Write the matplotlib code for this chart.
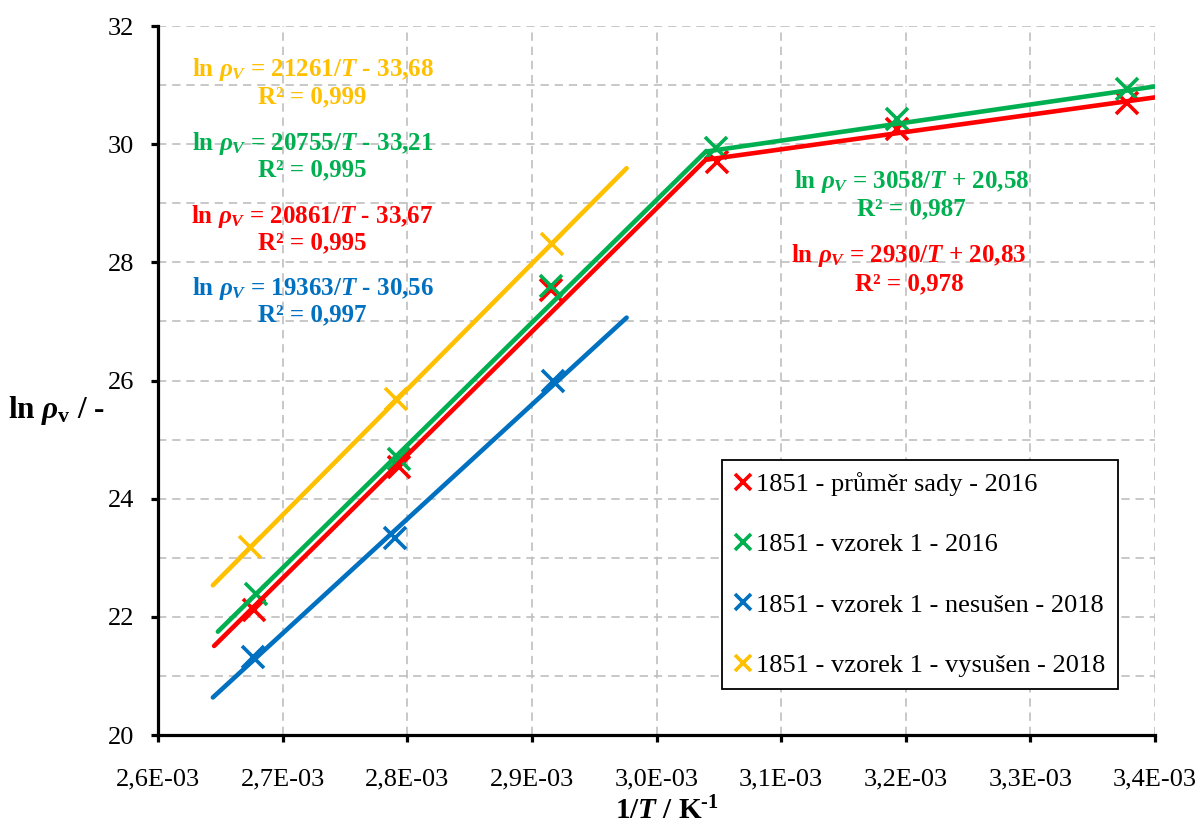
import numpy as np
import matplotlib
matplotlib.use("Agg")
import matplotlib.pyplot as plt
from matplotlib.ticker import MultipleLocator, FuncFormatter

# ============== fonts (Times-like)
plt.rcParams['font.family'] = 'Liberation Serif'
plt.rcParams['mathtext.fontset'] = 'custom'
plt.rcParams['mathtext.rm'] = 'Liberation Serif:bold'
plt.rcParams['mathtext.it'] = 'Liberation Serif:italic:bold'
plt.rcParams['mathtext.bf'] = 'Liberation Serif:bold'

# ============== data (x in 1/K)
x_red = [2.677e-3, 2.7936e-3, 2.9157e-3, 3.0488e-3, 3.1932e-3, 3.3773e-3]
y_red = [22.11, 24.54, 27.53, 29.70, 30.26, 30.70]
x_green = [2.679e-3, 2.7936e-3, 2.9154e-3, 3.0477e-3, 3.1932e-3, 3.3773e-3]
y_green = [22.39, 24.68, 27.60, 29.94, 30.42, 30.93]
x_blue = [2.676e-3, 2.790e-3, 2.9167e-3]
y_blue = [21.32, 23.33, 26.00]
x_yellow = [2.6738e-3, 2.791e-3, 2.916e-3]
y_yellow = [23.18, 25.68, 28.31]

labels = ["1851 - průměr sady - 2016",
          "1851 - vzorek 1 - 2016",
          "1851 - vzorek 1 - nesušen - 2018",
          "1851 - vzorek 1 - vysušen - 2018"]
colors = ['#FF0000', '#00B050', '#0070C0', '#FFC000']

# trend lines: slope, intercept, x start, x end (as printed on the chart)
trend_red = [(20861, -33.67, 2.645e-3, 3.04e-3), (2930, 20.83, 3.04e-3, 3.4e-3)]
trend_green = [(20755, -33.21, 2.648e-3, 3.04e-3), (3058, 20.58, 3.04e-3, 3.4e-3)]
trend_blue = [(19363, -30.56, 2.644e-3, 2.976e-3)]
trend_yellow = [(21261, -33.68, 2.644e-3, 2.976e-3)]

# equation labels: text, x, y
eq_yellow = [(r'ln $\rho_V$ = 21261/$T$ - 33,68', 2.724e-3, 31.27), ('R² = 0,999', 2.724e-3, 30.80)]
eq_green = [(r'ln $\rho_V$ = 20755/$T$ - 33,21', 2.724e-3, 30.015), ('R² = 0,995', 2.724e-3, 29.56),
            (r'ln $\rho_V$ = 3058/$T$ + 20,58', 3.2048e-3, 29.365), ('R² = 0,987', 3.2048e-3, 28.90)]
eq_red = [(r'ln $\rho_V$ = 20861/$T$ - 33,67', 2.724e-3, 28.77), ('R² = 0,995', 2.724e-3, 28.33),
          (r'ln $\rho_V$ = 2930/$T$ + 20,83', 3.2026e-3, 28.12), ('R² = 0,978', 3.2026e-3, 27.645)]
eq_blue = [(r'ln $\rho_V$ = 19363/$T$ - 30,56', 2.724e-3, 27.56), ('R² = 0,997', 2.724e-3, 27.11)]

series = [(x_red, y_red, trend_red, eq_red),
          (x_green, y_green, trend_green, eq_green),
          (x_blue, y_blue, trend_blue, eq_blue),
          (x_yellow, y_yellow, trend_yellow, eq_yellow)]

fig = plt.figure(figsize=(12, 8.31), dpi=100)
ax = fig.add_axes([0.1317, 0.1155, 0.8308, 0.8532])

for (xs, ys, trends, eqs), lab, col in zip(series, labels, colors):
    ax.plot(xs, ys, linestyle='none', marker='x', markersize=16, markeredgewidth=2.6,
            color=col, label=lab, zorder=3)
    for a, b, x0, x1 in trends:
        xx = np.array([x0, x1])
        ax.plot(xx, a * xx + b, color=col, linewidth=3.3, solid_capstyle='round', zorder=4)
    for txt, tx, ty in eqs:
        ax.text(tx, ty, txt, color=col, fontsize=18, fontweight='bold',
                ha='center', va='center', zorder=5)

ax.set_xlim(2.6e-3, 3.4e-3)
ax.set_ylim(20, 32)
ax.xaxis.set_major_locator(MultipleLocator(0.1e-3))
ax.yaxis.set_major_locator(MultipleLocator(2))
ax.yaxis.set_minor_locator(MultipleLocator(1))
ax.xaxis.set_major_formatter(FuncFormatter(lambda v, p: ("%.1f" % (v * 1e3)).replace('.', ',') + "E-03"))
ax.yaxis.set_major_formatter(FuncFormatter(lambda v, p: "%d" % round(v)))

ax.grid(True, which='major', axis='x', color='#BFBFBF', linestyle=(0, (5, 3.5)), linewidth=1.2)
ax.grid(True, which='both', axis='y', color='#BFBFBF', linestyle=(0, (5, 3.5)), linewidth=1.2)
ax.set_axisbelow(True)

for s in ['top', 'right']:
    ax.spines[s].set_visible(False)
for s in ['left', 'bottom']:
    ax.spines[s].set_linewidth(2.3)
    ax.spines[s].set_zorder(6)

ax.tick_params(axis='both', which='major', direction='out', length=5, width=2.3, labelsize=19)
ax.tick_params(axis='x', which='major', pad=19)
ax.tick_params(axis='y', which='major', pad=12)
ax.tick_params(axis='y', which='minor', length=0)

ax.set_xlabel(r'$\mathit{1/T}$ / K$^{\text{-1}}$', fontsize=21, fontweight='bold', va='center')
ax.xaxis.set_label_coords(0.51, -0.107)
ax.set_ylabel(r'ln $\rho_\mathbf{v}$ / -', fontsize=22.5, fontweight='bold', rotation=0,
              ha='center', va='center')
ax.yaxis.set_label_coords(-0.102, 0.458)

leg = ax.legend(loc='upper left', bbox_to_anchor=(0.5657, 0.388), borderaxespad=0,
                fontsize=19, markerscale=0.75, handlelength=0.7, handletextpad=0.15,
                labelspacing=1.4, borderpad=0.45, fancybox=False, framealpha=1,
                edgecolor='black')
leg.get_frame().set_linewidth(1.3)
leg.set_zorder(7)

fig.savefig("out.png", dpi=100)
